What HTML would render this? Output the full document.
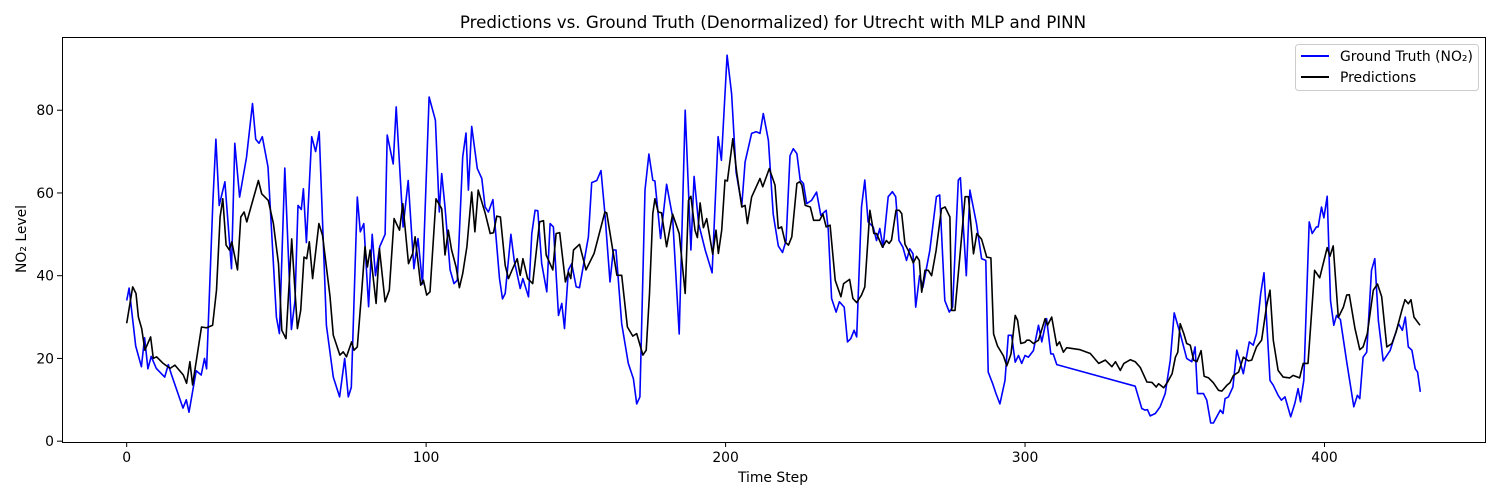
<!DOCTYPE html>
<html><head><meta charset="utf-8">
<style>
html,body{margin:0;padding:0;background:#fff;}
svg{display:block;font-family:"DejaVu Sans","Liberation Sans",sans-serif;}
</style></head>
<body>
<svg id="chart" width="1500" height="500" viewBox="0 0 1500 500">
<rect x="0" y="0" width="1500" height="500" fill="#fff"/>
<text x="773" y="28" text-anchor="middle" font-size="16.7" fill="#000">Predictions vs. Ground Truth (Denormalized) for Utrecht with MLP and PINN</text>
<g id="plot"></g>
<text x="773" y="482" text-anchor="middle" font-size="13.9" fill="#000">Time Step</text>
<text transform="translate(26,239) rotate(-90)" text-anchor="middle" font-size="13.9" fill="#000">NO₂ Level</text>
<g>
<rect x="1295.5" y="44.5" width="183" height="46" rx="3" fill="#fff" stroke="#ccc"/>
<line x1="1301" y1="56" x2="1329" y2="56" stroke="#0000ff" stroke-width="2"/>
<text x="1340" y="61" font-size="13.9">Ground Truth (NO₂)</text>
<line x1="1301" y1="77" x2="1329" y2="77" stroke="#000" stroke-width="2"/>
<text x="1340" y="82" font-size="13.9">Predictions</text>
</g>
</svg>
<script>
const xTicks = [0,100,200,300,400];
const yTicks = [0,20,40,60,80];
const truthSteps = [0,0.8,3,4.9,6,7.1,8.2,9.9,12.7,13.9,15,18.8,19.9,20.8,23.2,24.9,26,26.7,28.8,29.8,30.9,32.8,35,36.1,37.7,40,42,43.1,44.2,45.3,47.2,50,51,52.8,55,56.2,57.2,58.3,59,60,61.8,63.1,64.3,66.7,69,71.1,72.8,74,75,77,78,79.2,80.8,82,83.1,84.5,86.3,87,89,90,92.3,94,95.9,97.3,98.8,101,103.1,104.4,105.2,106.3,108,109.3,110.4,112.2,113.3,114.1,115.2,117.1,118.6,119.7,120.8,122.3,124.5,125.5,126.4,128.3,129.4,131.4,132.3,134.2,135.3,136.4,137.3,138.6,140.3,141.4,142.5,144.2,145.3,146.2,147.5,148.6,150.1,151.2,154.2,155.3,157,158.4,159.7,161.4,162.5,163.4,165.3,167.5,169.2,170.3,171.4,173.1,174.4,175.7,176.4,178.3,180.3,182.3,184.5,186.5,188.4,189.5,191,193.2,195.5,197.5,198.6,200.5,202,203.5,205.4,206.5,208.7,210.2,211.5,212.6,214.3,215.9,217.6,219,220.2,221.5,222.6,223.8,224.9,226,227.1,228.7,230.4,231.8,233.6,234.3,235.4,236.9,238,239.6,240.7,241.8,242.9,243.8,245.4,246.5,247.6,249.3,250.4,251.5,252.6,254.3,255.7,256.8,257.9,259.2,260.4,261.5,262.6,263.5,264.8,265.9,268.2,270.4,271.5,273.2,274.7,275.8,277.7,278.4,280.4,281.6,283.8,285.5,286.9,287.7,289.2,290.3,291.6,293.3,294.4,295.5,296.7,297.8,298.9,300,301.1,302.8,304.5,305.6,307.2,308.6,309.4,310.6,336.8,339,340.1,340.9,341.8,343.5,345.1,346.8,348.5,349.8,351.8,354,355.7,356.8,357.6,359.6,360.7,362,362.9,365.2,366.1,366.8,367.9,369.4,370.7,371.8,372.9,374.9,376.2,377.3,378.7,379.8,381.8,382.9,384.5,385.6,386.8,388.7,390.1,391.2,392,393.1,394.9,395.9,397.3,397.9,399,399.8,400.9,402,403.1,404,405.3,407.4,409.8,411,411.8,412.9,414.1,415.7,416.8,418,419.6,421.9,424.7,426,427,428,429.2,430.3,431.1,432];
const truthValues = [34,37,23,18,25,17.5,20.5,17.6,15.5,18.5,16,8,10,7,17,16,20,17.5,58,73,57,62.7,41.7,72,59,68.6,81.6,73,72,73.6,66.3,30,26,66,27,34,57,56,61,48,73.6,70,74.8,28,15.5,10.7,20,10.7,13,59,50.6,52.6,32.5,50,40,47,50,74,67,80.8,51.8,63,41.7,49,38,83.2,77.6,55.4,64.7,56.6,41.4,38.1,38.9,68.7,74.5,60.7,76.1,65.9,63.5,56.6,55.4,58.4,39.3,34.4,35.7,50,43.7,36.9,39.3,34.9,50.2,55.8,55.7,42.9,36.1,52.6,51.8,30.4,33.3,27.2,41.4,42.9,37.3,37.1,49.4,62.5,63,65.4,55,38.5,46.2,46.2,28.4,18.8,15.1,9,10.7,60.7,69.4,63.1,62.9,49,62.1,54.2,25.9,80,46.2,64,52.6,46.2,40.7,73.6,67.9,93.3,84,65,57,67.5,74.4,74.8,74.4,79.2,72.7,54.9,47.2,45.6,48.5,69,70.7,69.5,63.1,62.3,57.4,58.2,60.2,54.6,55.8,51,34.5,31.2,33.7,32.4,24,24.8,26.8,25.2,56.6,63.1,53,51.8,48.5,51.4,46.9,59.1,60.3,59.1,48.5,46.9,43.7,46.5,45.3,32.4,40,37.2,46.1,59.1,59.5,34,31.2,32.4,63.1,63.7,40,60.7,52.6,44.1,43.7,16.7,13.9,11.5,9,14.7,25.6,25.6,19.1,20.7,18.8,20.7,20.3,21.9,28,24,29.6,21.1,21.1,18.5,13.3,7.9,7.5,7.6,6.1,6.7,8.3,11.5,19.6,31,26,20,19.2,22.8,11.5,11.5,9.9,4.4,4.4,7.5,6.7,10.3,10.7,13.1,22,19.2,16.3,24,23.2,26,35.7,40.7,14.7,13.5,11.1,9.9,10.7,5.9,9.1,12.7,9.5,14.7,53,50.2,51.8,51.8,56.6,54,59.2,34,28,30.4,29.4,19.2,8.3,11.1,10.3,20.3,21.5,41.3,44.1,29.1,19.4,21.9,28.4,26.8,30,22.8,22,17.5,16.7,11.9];
const predSteps = [0,2,3.1,3.9,5,6.1,8,8.9,10,12.2,14.5,16.1,18.9,20,21.1,22,25,26.7,28.7,30,31.2,32.1,33.2,34.3,35.1,37,38.1,39.2,40.1,42.1,44,45.1,47.3,49,50.7,51.8,53.2,55.1,57,58.1,59.2,60.1,61,62.1,64.2,65.4,67.9,69,71.2,72.3,73.4,75.1,75.9,77,78.5,79.6,80.4,81.3,83.3,84.4,86.3,87.7,89.3,91.1,92.2,94.1,95.5,96.3,98.2,99.1,100.2,101.3,103.3,105.2,106.3,107.4,108.5,110,111.1,112.2,113.6,115.2,116.3,117.4,119.7,121.4,122.5,123.6,124.8,126.4,127.5,128.7,130.4,131.4,132.3,133.9,135.6,137.9,139.2,140.1,142.3,143.4,144.6,146.5,147.5,148.3,149.2,151.2,153.4,156.1,159.7,160.3,162.5,163.7,165.3,167.2,169,170.3,172.4,173.5,174.6,175.7,176.4,177.5,178.6,180.3,182.3,184.5,186.5,187.6,188.4,189.8,190.6,191.5,192.6,193.7,195.7,196.8,197.6,198.7,199.8,200.6,202.4,203.7,205.4,206.5,207.3,208.7,211.5,212.4,214.6,216.5,217.6,218.7,219.9,221,222.1,223.8,224.7,225.5,226.6,228.3,229.4,231.4,232.5,233.6,234.9,236.6,238.5,239.4,241.4,242.5,243.8,245.4,246.5,248.2,249.5,250.4,252.4,253.7,254.6,255.4,256.9,258,258.8,259.9,261,262.7,263.8,264.7,265.5,266.6,267.7,268.8,270.3,272.1,273.3,274.9,275.5,276.6,278.3,280,281.1,282.8,283.9,285.5,287.2,288.6,289.5,290.8,292.8,293.9,295.3,296.7,297.5,298.6,300,300.6,301.5,302.8,304.5,306.7,307.5,308.9,310.6,311.5,312.8,313.9,318.4,321.8,324.6,326.8,329,330.2,331.8,333,335.2,336.8,338.5,340.7,342.4,343.8,344.6,346.3,347.6,349.1,350.2,351,351.8,353,354,355.2,356.3,357.4,358.8,359.8,361.3,362.9,364.6,365.7,367.4,368.4,369.6,371.3,372.9,374.6,375.7,377.3,379,380.7,381.8,382.9,384.5,386.2,388.4,389.5,391.7,392.9,394.5,396.7,398.4,400.9,401.8,402.9,404.6,406.3,407.4,408.3,410.2,411.8,412.9,414.3,416.3,417.7,419.1,420.8,422.5,423.9,425.8,426.9,428,428.9,429.9,431.9];
const predValues = [28.5,37.3,35.7,30,27.2,22,25.2,20,20.4,18.8,17.6,18.4,16,14,19.2,13.6,27.6,27.4,28,36.5,54.2,58.6,47.4,46.2,48.2,41.4,54.2,55.4,53,58.2,63,59.8,58.2,52.6,42.9,26.8,24.8,48.9,27.2,31.6,44.5,44.1,48.2,39.3,52.6,49.8,35,25.6,20.8,21.6,20.4,24,22,22.8,36.5,47,42.1,46.2,33.3,46.6,33.7,36.5,53.8,51,57.4,42.9,45.4,49.4,37.7,38.9,35.3,36.1,58.6,56.2,45,51,46.2,42.1,37.1,40.5,47,60.2,50.6,60.7,55.2,50.2,50.4,54.4,54.2,42.5,39.3,41.4,44.1,40.1,44.1,39.3,38.1,53,53.3,45,41.4,50.2,50.4,38.5,40.9,39.3,46.2,47.6,41.4,45.4,55.4,55.2,45.4,40.1,40.1,27.6,25.4,26,20.8,22,35.7,55,58.6,55.4,55.2,47,54.9,50.2,35.7,58.2,59.2,51,49.2,57.6,51.6,53.8,45.2,51,45.4,51,63.1,62.9,73.1,65,56.6,57,52.6,59,63.5,61.5,65.9,61.9,51.4,51.8,48.1,47.4,49.4,62.3,62.7,61.9,57,56.6,53.4,53.4,54.9,51.8,52.2,38.9,34.9,38.1,39.1,34.5,33.5,35.3,37.3,55.8,50.2,50.2,46.9,48.5,47.8,48.6,55.8,55.8,55,47.6,46.1,43.1,44.7,43.7,36,41.3,41.3,40,46.1,56.2,56.6,54.2,31.6,31.6,45.3,59.1,59.1,45.3,50.2,48.8,44.5,44.3,25.9,23,20.6,18.2,21.1,30.4,29.2,23.6,23.9,24.4,24.4,23.6,24.4,29.6,28,30,23.1,24,21.5,22.6,22.1,21.2,18.8,19.6,18,19.2,17.1,18.8,19.7,19.2,17.8,14.3,14.2,13.1,13.9,12.9,14.3,16.3,20.3,21.5,28.4,26,23.6,23.2,19.6,19.2,21.9,15.7,15.3,14.1,12.3,12.1,13.5,14.1,15.9,16.7,20.3,19.4,19.6,22.8,24.4,32.9,36.5,24.4,17.1,15.5,15.3,15.9,15.3,18.8,18.8,41.3,39.5,46.8,44.7,47.2,29.9,32.4,35.3,35.4,27.2,22.1,22.8,26,36.5,38,34.9,22.8,23.6,26.4,31.6,34.2,33.2,34.2,30,28];

const NS = 'http://www.w3.org/2000/svg';
const L = 62, R = 1485, T = 37, B = 442;
const XMIN = -21.6, XMAX = 453.6, YMIN = -0.2, YMAX = 97.7;
function xScale(v){ return L + (v - XMIN) / (XMAX - XMIN) * (R - L); }
function yScale(v){ return B - (v - YMIN) / (YMAX - YMIN) * (B - T); }
const plot = document.getElementById('plot');
function mk(tag, attrs){ const e = document.createElementNS(NS, tag); for (const k in attrs) e.setAttribute(k, attrs[k]); return e; }

xTicks.forEach(t => {
  const x = xScale(t);
  const ln = mk('line', {x1:x, y1:B, x2:x, y2:B+5, stroke:'#000', 'stroke-width':1});
  
  
  plot.appendChild(ln);
  const tx = mk('text', {x:x, y:B+20, 'text-anchor':'middle', 'font-size':13.9});
  
  
  tx.textContent = t;
  plot.appendChild(tx);
});
yTicks.forEach(t => {
  const y = yScale(t);
  const ln = mk('line', {x1:L-5, y1:y, x2:L, y2:y, stroke:'#000', 'stroke-width':1});
  
  
  plot.appendChild(ln);
  const tx = mk('text', {x:L-8, y:y+5, 'text-anchor':'end', 'font-size':13.9});
  
  
  tx.textContent = t;
  plot.appendChild(tx);
});

function line(steps, vals, color, name){
  const d = steps.map((s,i) => (i ? 'L' : 'M') + xScale(s).toFixed(1) + ',' + yScale(vals[i]).toFixed(1)).join('');
  const p = mk('path', {d:d, fill:'none', stroke:color, 'stroke-width':1.6, 'stroke-linejoin':'round'});
  
  
  plot.appendChild(p);
}
line(truthSteps, truthValues, '#0000ff', 'ground-truth-line');
line(predSteps, predValues, '#000000', 'predictions-line');

const frame = mk('rect', {x:L+0.5, y:T+0.5, width:R-L, height:B-T, fill:'none', stroke:'#000', 'stroke-width':1});


plot.appendChild(frame);
</script>
</body></html>
